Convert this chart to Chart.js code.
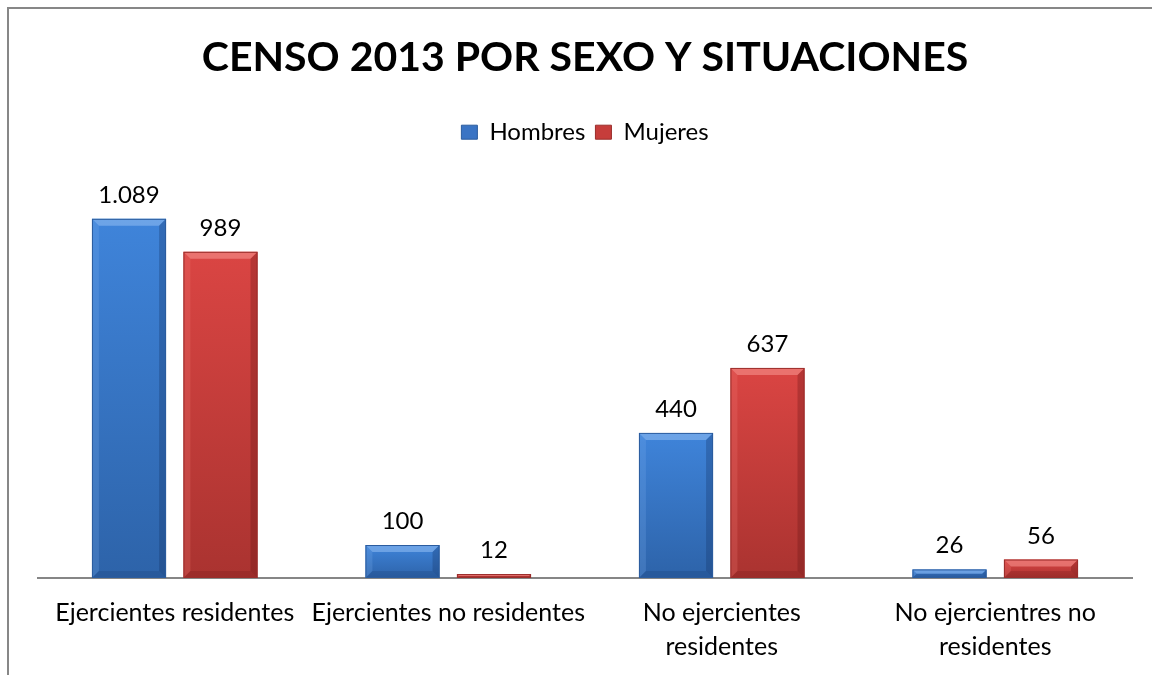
<!DOCTYPE html>
<html><head><meta charset="utf-8">
<script src="https://cdn.jsdelivr.net/npm/chart.js@4/dist/chart.umd.min.js"></script>
<style>
html,body{margin:0;padding:0;background:#fff;overflow:hidden;}
#wrap{position:relative;width:1152px;height:675px;overflow:hidden;}
#frame{position:absolute;left:7px;top:7px;right:-4px;bottom:-4px;border-left:2px solid #878787;border-top:2px solid #878787;}
canvas{position:absolute;left:0;top:0;}
</style></head><body>
<div id="wrap"><div id="frame"></div><canvas id="c" width="1152" height="690"></canvas></div>
<script>
const chartTitle = 'CENSO 2013 POR SEXO Y SITUACIONES';
const categories = [
  'Ejercientes residentes',
  'Ejercientes no residentes',
  ['No ejercientes', 'residentes'],
  ['No ejercientres no', 'residentes']
];
const seriesNames = ['Hombres', 'Mujeres'];
const hombres = [1089, 100, 440, 26];
const mujeres = [989, 12, 637, 56];

const FONT = 'Lato, "Open Sans", sans-serif';

function fmt(v){ return String(v).replace(/\B(?=(\d{3})+(?!\d))/g, '.'); }

function barGradient(light, dark){
  return (ctx) => {
    const chart = ctx.chart;
    if (!chart.chartArea || ctx.type !== 'data' || !ctx.parsed) return dark;
    const y = chart.scales.y.getPixelForValue(ctx.parsed.y);
    const base = chart.scales.y.getPixelForValue(0);
    if (!isFinite(y) || !isFinite(base) || Math.abs(base - y) < 1) return dark;
    const g = chart.ctx.createLinearGradient(0, y, 0, base);
    g.addColorStop(0, light);
    g.addColorStop(1, dark);
    return g;
  };
}

const styles = [
  {light:'#3f84da', dark:'#2d63a9', solid:'#3a74c4', bevelTop:'rgba(140,185,240,0.6)', bevelL:'rgba(120,170,235,0.25)', bevelR:'rgba(20,50,100,0.3)', bevelB:'rgba(20,50,100,0.2)', edge:'#2b5c9e'},
  {light:'#da4543', dark:'#aa3330', solid:'#c63d3b', bevelTop:'rgba(245,145,140,0.6)', bevelL:'rgba(240,120,115,0.25)', bevelR:'rgba(100,20,20,0.3)', bevelB:'rgba(100,20,20,0.2)', edge:'#9a2d2b'}
];

const bevelPlugin = {
  id: 'bevel',
  afterDatasetsDraw(chart){
    const c = chart.ctx;
    chart.data.datasets.forEach((ds, di) => {
      const meta = chart.getDatasetMeta(di);
      const st = styles[di];
      meta.data.forEach(el => {
        const p = el.getProps(['x','y','base','width'], true);
        const l = p.x - p.width/2, r = p.x + p.width/2, t = p.y, b = p.base;
        const h = b - t;
        const k = Math.max(1, Math.min(7, h/2));
        c.save();
        c.fillStyle = st.bevelTop;
        c.beginPath(); c.moveTo(l,t); c.lineTo(r,t); c.lineTo(r-k,t+k); c.lineTo(l+k,t+k); c.closePath(); c.fill();
        c.fillStyle = st.bevelL;
        c.beginPath(); c.moveTo(l,t); c.lineTo(l+k,t+k); c.lineTo(l+k,b-k); c.lineTo(l,b); c.closePath(); c.fill();
        c.fillStyle = st.bevelR;
        c.beginPath(); c.moveTo(r,t); c.lineTo(r-k,t+k); c.lineTo(r-k,b-k); c.lineTo(r,b); c.closePath(); c.fill();
        c.fillStyle = st.bevelB;
        c.beginPath(); c.moveTo(l,b); c.lineTo(l+k,b-k); c.lineTo(r-k,b-k); c.lineTo(r,b); c.closePath(); c.fill();
        c.strokeStyle = st.edge; c.lineWidth = 1;
        c.strokeRect(l+0.5, t+0.5, p.width-1, h-1);
        c.restore();
      });
    });
  }
};

const labelPlugin = {
  id: 'valueLabels',
  afterDatasetsDraw(chart){
    const c = chart.ctx;
    c.save();
    c.font = '24px ' + FONT;
    c.fillStyle = '#000';
    c.textAlign = 'center';
    c.textBaseline = 'alphabetic';
    chart.data.datasets.forEach((ds, di) => {
      const meta = chart.getDatasetMeta(di);
      meta.data.forEach((el, i) => {
        c.fillText(fmt(ds.data[i]), el.x, el.y - 16);
      });
    });
    c.restore();
  }
};

new Chart(document.getElementById('c'), {
  type: 'bar',
  data: {
    labels: categories,
    datasets: [
      { label: seriesNames[0], data: hombres, backgroundColor: barGradient(styles[0].light, styles[0].dark), borderWidth: 0 },
      { label: seriesNames[1], data: mujeres, backgroundColor: barGradient(styles[1].light, styles[1].dark), borderWidth: 0 }
    ]
  },
  options: {
    responsive: false,
    animation: false,
    devicePixelRatio: 1,
    categoryPercentage: 0.669,
    barPercentage: 0.81,
    layout: { padding: { left: 38, right: 20, top: 0, bottom: 8 } },
    plugins: {
      title: {
        display: true,
        text: chartTitle,
        color: '#000',
        font: { family: FONT, size: 41, weight: 'bold', lineHeight: 1.2 },
        padding: { top: 33, bottom: 28 }
      },
      legend: {
        display: true,
        position: 'top',
        labels: {
          color: '#000',
          font: { family: FONT, size: 24 },
          boxWidth: 16,
          boxHeight: 14,
          padding: 10,
          generateLabels: (chart) => chart.data.datasets.map((ds, i) => ({
            text: ds.label, fillStyle: styles[i].solid, strokeStyle: styles[i].edge, lineWidth: 1,
            hidden: false, datasetIndex: i, fontColor: '#000'
          }))
        }
      },
      tooltip: { enabled: false }
    },
    scales: {
      x: {
        grid: { display: false, drawTicks: false },
        border: { display: true, color: '#868686', width: 2 },
        ticks: { color: '#000', font: { family: FONT, size: 25, lineHeight: 1.36 }, padding: 18, maxRotation: 0, autoSkip: false }
      },
      y: {
        display: false,
        min: 0,
        max: 1285
      }
    }
  },
  plugins: [bevelPlugin, labelPlugin]
});
</script>
</body></html>
